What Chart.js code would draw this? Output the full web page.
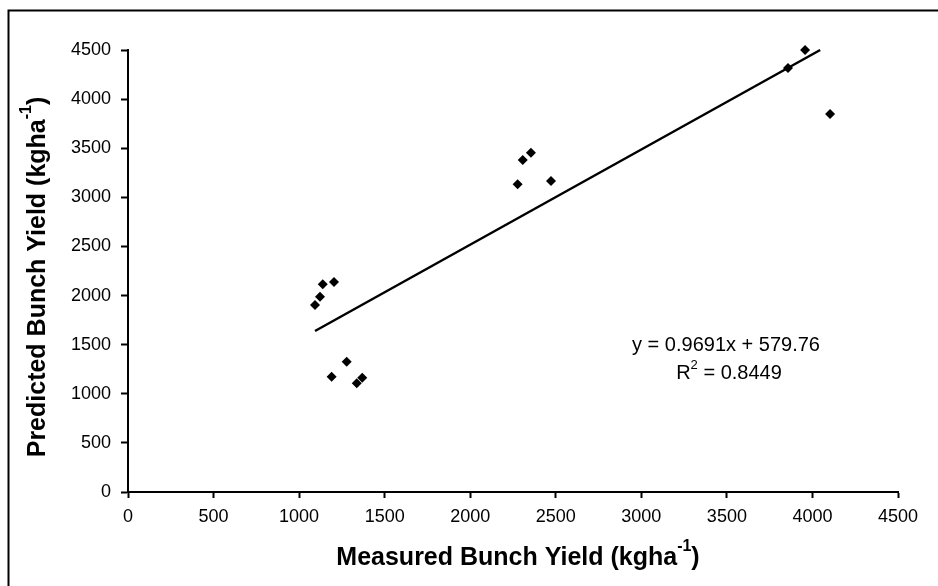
<!DOCTYPE html>
<html lang="en">
<head>
  <meta charset="UTF-8" />
  <title>Measured vs Predicted Bunch Yield</title>
  <script src="https://cdn.jsdelivr.net/npm/chart.js"></script>
  <style>
    body {
      margin: 0;
      padding: 0;
      background: #ffffff;
    }
    #wrap {
      width: 938px;
      height: 586px;
    }
  </style>
</head>
<body>

<div id="wrap">
  <canvas id="yieldChart" width="938" height="586"></canvas>
</div>

<script>
  // measured vs predicted bunch yield (kg/ha)
  const measured = [1093, 1122, 1138, 1204, 1190, 1278, 1337, 1369, 2277, 2307, 2355, 2472, 3857, 3957, 4103];
  const predicted = [1904, 1988, 2115, 2138, 1174, 1327, 1106, 1164, 3133, 3380, 3454, 3166, 4318, 4500, 3849];

  const axisTicks = [0, 500, 1000, 1500, 2000, 2500, 3000, 3500, 4000, 4500];

  // regression shown on the figure
  const slope = 0.9691;
  const intercept = 579.76;
  const rSquared = 0.8449;

  const axisMax = axisTicks[axisTicks.length - 1];
  const points = measured.map((m, i) => ({ x: m, y: predicted[i] }));

  // trend line runs from the smallest x until it leaves the top of the plot
  const xStart = Math.min(...measured);
  const xEnd = Math.min(Math.max(...measured), (axisMax - intercept) / slope);
  const trend = [
    { x: xStart, y: slope * xStart + intercept },
    { x: xEnd, y: slope * xEnd + intercept }
  ];

  const FONT = "'Liberation Sans', Arial, sans-serif";

  // bold text with a superscript tail, e.g. kgha^-1
  function drawSupText(ctx, parts, x, y, size) {
    const big = 'bold ' + size + 'px ' + FONT;
    const small = 'bold ' + Math.round(size * 0.62) + 'px ' + FONT;
    ctx.font = big;
    const w1 = ctx.measureText(parts[0]).width;
    const w3 = ctx.measureText(parts[2]).width;
    ctx.font = small;
    const w2 = ctx.measureText(parts[1]).width;
    const left = x - (w1 + w2 + w3) / 2;
    ctx.textBaseline = 'middle';
    ctx.textAlign = 'left';
    ctx.font = big;
    ctx.fillText(parts[0], left, y);
    ctx.fillText(parts[2], left + w1 + w2, y);
    ctx.font = small;
    ctx.fillText(parts[1], left + w1, y - size * 0.45);
  }

  const decorations = {
    id: 'decorations',
    afterDraw(chart) {
      const ctx = chart.ctx;
      ctx.save();
      ctx.fillStyle = '#000';
      ctx.strokeStyle = '#000';

      // outer frame (runs off the right and bottom edges)
      ctx.lineWidth = 2;
      ctx.strokeRect(8.5, 10.5, 960, 600);

      // axis titles
      drawSupText(ctx, ['Measured Bunch Yield (kgha', '-1', ')'], 518, 558, 25);
      ctx.save();
      ctx.translate(38, 277);
      ctx.rotate(-Math.PI / 2);
      drawSupText(ctx, ['Predicted Bunch Yield (kgha', '-1', ')'], 0, 0, 25);
      ctx.restore();

      // regression equation
      ctx.font = '20px ' + FONT;
      ctx.textAlign = 'center';
      ctx.textBaseline = 'middle';
      ctx.fillText('y = ' + slope + 'x + ' + intercept, 726, 345);
      const rText = ' = ' + rSquared;
      const wR = ctx.measureText('R').width;
      const wRest = ctx.measureText(rText).width;
      ctx.font = '13px ' + FONT;
      const w2 = ctx.measureText('2').width;
      const left = 729 - (wR + w2 + wRest) / 2;
      ctx.textAlign = 'left';
      ctx.fillText('2', left + wR, 365);
      ctx.font = '20px ' + FONT;
      ctx.fillText('R', left, 373);
      ctx.fillText(rText, left + wR + w2, 373);
      ctx.restore();
    }
  };

  const plainTick = (value) => String(value);

  const ctx = document.getElementById('yieldChart').getContext('2d');
  const chart = new Chart(ctx, {
    type: 'scatter',
    data: {
      datasets: [
        {
          label: 'Observed',
          data: points,
          pointStyle: 'rectRot',
          pointRadius: 5,
          pointHoverRadius: 5,
          backgroundColor: '#000',
          borderColor: '#000',
          borderWidth: 0,
          clip: false
        },
        {
          label: 'Linear fit',
          data: trend,
          showLine: true,
          pointRadius: 0,
          borderColor: '#000',
          borderWidth: 2.5,
          clip: false
        }
      ]
    },
    options: {
      responsive: false,
      animation: false,
      layout: {
        padding: { left: 0, top: 50, right: 40, bottom: 0 }
      },
      plugins: {
        legend: { display: false },
        tooltip: { enabled: false }
      },
      scales: {
        x: {
          type: 'linear',
          min: 0,
          max: axisMax,
          afterBuildTicks: (scale) => { scale.ticks = axisTicks.map(v => ({ value: v })); },
          afterFit: (scale) => { scale.height = 94; },
          grid: {
            drawOnChartArea: false,
            color: '#000',
            tickLength: 6,
            tickWidth: 2
          },
          border: { color: '#000', width: 2 },
          ticks: {
            color: '#000',
            padding: 8,
            maxRotation: 0,
            callback: plainTick,
            font: { family: FONT, size: 18 }
          }
        },
        y: {
          type: 'linear',
          min: 0,
          max: axisMax,
          afterBuildTicks: (scale) => { scale.ticks = axisTicks.map(v => ({ value: v })); },
          afterFit: (scale) => { scale.width = 128; },
          grid: {
            drawOnChartArea: false,
            color: '#000',
            tickLength: 7,
            tickWidth: 2
          },
          border: { color: '#000', width: 2 },
          ticks: {
            color: '#000',
            padding: 10,
            callback: plainTick,
            font: { family: FONT, size: 18 }
          }
        }
      }
    },
    plugins: [decorations]
  });
</script>

</body>
</html>
